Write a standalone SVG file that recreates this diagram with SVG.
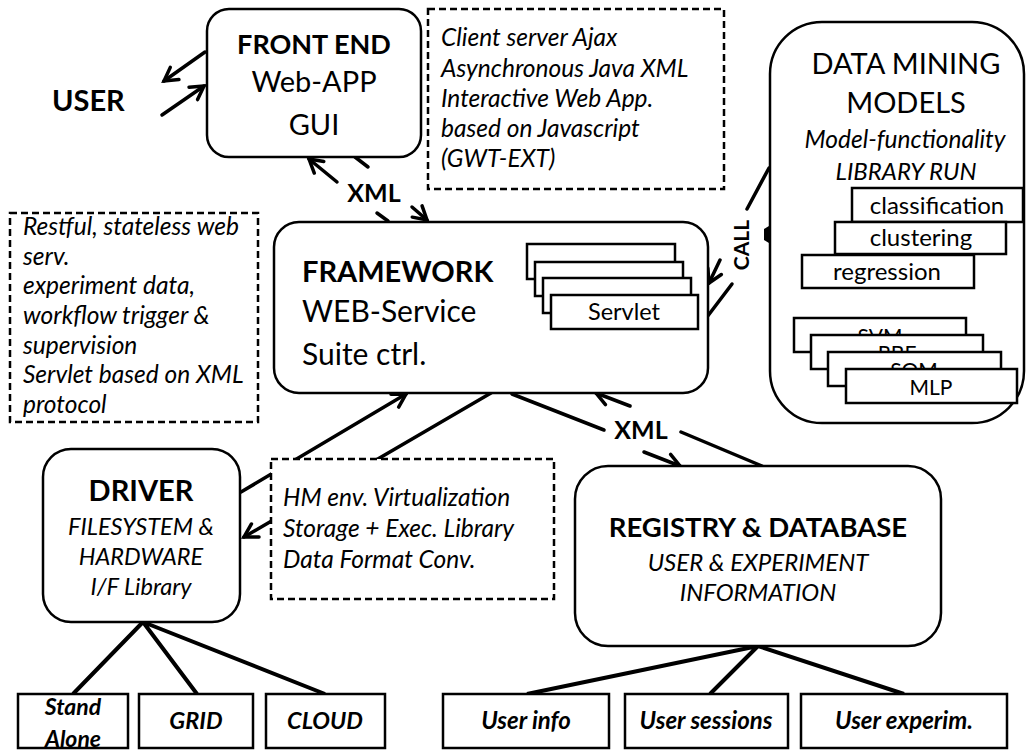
<svg xmlns="http://www.w3.org/2000/svg" width="1030" height="751" viewBox="0 0 1030 751">
<defs>
<style>
.t{font-family:Lato,"Liberation Sans",sans-serif;fill:#000}
.b{font-weight:bold}
.i{font-style:italic}
.m{text-anchor:middle}
.box{fill:#fff;stroke:#000;stroke-width:2.5}
.dash{fill:#fff;stroke:#000;stroke-width:2.5;stroke-dasharray:7 4}
.sq{fill:#fff;stroke:#000;stroke-width:2.5}
.c{fill:none;stroke:#000;stroke-width:3.5;stroke-linecap:round}
.tree{fill:none;stroke:#000;stroke-width:4}
</style>
<marker id="ah" markerWidth="24" markerHeight="24" refX="16" refY="10" orient="auto" markerUnits="userSpaceOnUse" overflow="visible">
<path d="M3,2.5 L16,10 L3,17.5" fill="none" stroke="#000" stroke-width="3.5" stroke-linecap="round"/>
</marker>
</defs>

<g id="connectors">
<path class="c" d="M205,52 L164,81" marker-end="url(#ah)"/>
<path class="c" d="M162,115 L204,86" marker-end="url(#ah)"/>
<path class="c" d="M388,221 L377,213 M337,182 L309,159" marker-end="url(#ah)"/>
<path class="c" d="M355,157 L368,167 M412,207 L427,220" marker-end="url(#ah)"/>
<path class="c" d="M707,317 L732,284"/>
<polygon points="764,229 769,226 769,243 764,240" fill="#000"/>
<path class="c" d="M769,168 L747,209 M720,260 L709,283" marker-end="url(#ah)"/>
<path class="c" d="M241,492 L406,394" marker-end="url(#ah)"/>
<path class="c" d="M491,393 L244,537" marker-end="url(#ah)"/>
<path class="c" d="M512,394 L604,430 M644,452 L680,466" marker-end="url(#ah)"/>
<path class="c" d="M762,466 L681,432 M630,406 L596,393" marker-end="url(#ah)"/>
<path class="tree" d="M143,622 L73,694 M143,622 L197,694 M143,622 L325,694"/>
<path class="tree" d="M758,646 L527,694 M758,646 L710,694 M758,646 L904,694"/>
<text class="t b m" x="374" y="202" font-size="25">XML</text>
<text class="t b m" x="641" y="439" font-size="25">XML</text>
<text class="t b m" x="0" y="0" font-size="21" transform="translate(749,245) rotate(-90)">CALL</text>
</g>

<g id="user">
<text class="t b" x="52" y="111" font-size="29">USER</text>
</g>

<g id="frontend">
<rect class="box" x="207" y="9" width="214" height="148" rx="22"/>
<text class="t b m" x="314" y="54" font-size="27">FRONT END</text>
<text class="t m" x="314" y="92" font-size="29">Web-APP</text>
<text class="t m" x="314" y="135" font-size="29">GUI</text>
</g>

<g id="note-client">
<rect class="dash" x="428" y="9" width="296" height="180"/>
<text class="t i" font-size="24.5"><tspan x="441" y="46">Client server Ajax</tspan><tspan x="441" y="76.5">Asynchronous Java XML</tspan><tspan x="441" y="107">Interactive Web App.</tspan><tspan x="441" y="137">based on Javascript</tspan><tspan x="441" y="167">(GWT-EXT)</tspan></text>
</g>

<g id="datamining">
<rect class="box" x="770" y="22" width="254" height="401" rx="52"/>
<text class="t m" x="906" y="74" font-size="29">DATA MINING</text>
<text class="t m" x="906" y="113" font-size="29">MODELS</text>
<text class="t i m" x="905" y="148" font-size="24.5">Model-functionality</text>
<text class="t i m" x="906" y="180" font-size="24">LIBRARY RUN</text>
<rect class="sq" x="852" y="188" width="171" height="34"/>
<text class="t m" x="937" y="214" font-size="24">classification</text>
<rect class="sq" x="835" y="222" width="171" height="32"/>
<text class="t m" x="921" y="246" font-size="24">clustering</text>
<rect class="sq" x="802" y="255" width="172" height="33"/>
<text class="t m" x="887" y="280" font-size="24">regression</text>
<rect class="sq" x="794" y="318" width="172" height="34"/>
<text class="t m" x="880" y="344" font-size="21">SVM</text>
<rect class="sq" x="811" y="335" width="172" height="34"/>
<text class="t m" x="897" y="361" font-size="21">RBF</text>
<rect class="sq" x="828" y="352" width="173" height="34"/>
<text class="t m" x="914" y="378" font-size="21">SOM</text>
<rect class="sq" x="846" y="369" width="171" height="34"/>
<text class="t m" x="931" y="395" font-size="21">MLP</text>
</g>

<g id="note-restful">
<rect class="dash" x="10" y="213" width="248" height="209"/>
<text class="t i" font-size="24.5"><tspan x="23" y="235">Restful, stateless web</tspan><tspan x="23" y="265">serv.</tspan><tspan x="23" y="294">experiment data,</tspan><tspan x="23" y="324">workflow trigger &amp;</tspan><tspan x="23" y="354">supervision</tspan><tspan x="23" y="383">Servlet based on XML</tspan><tspan x="23" y="413">protocol</tspan></text>
</g>

<g id="framework">
<rect class="box" x="274" y="222" width="434" height="171" rx="25"/>
<text class="t b" x="302" y="282" font-size="29">FRAMEWORK</text>
<text class="t" x="302" y="322" font-size="30">WEB-Service</text>
<text class="t" x="302" y="365" font-size="30">Suite ctrl.</text>
<rect class="sq" x="527" y="244" width="148" height="35"/>
<rect class="sq" x="535" y="262" width="148" height="34"/>
<rect class="sq" x="543" y="278" width="148" height="35"/>
<rect class="sq" x="551" y="295" width="147" height="34"/>
<text class="t m" x="624" y="320" font-size="23.5">Servlet</text>
</g>

<g id="driver">
<rect class="box" x="43" y="449" width="197" height="173" rx="28"/>
<text class="t b m" x="141" y="501" font-size="29">DRIVER</text>
<text class="t i m" x="141" y="535" font-size="23.5">FILESYSTEM &amp;</text>
<text class="t i m" x="141" y="565" font-size="23.5">HARDWARE</text>
<text class="t i m" x="141" y="595" font-size="23.5">I/F Library</text>
</g>

<g id="note-hm">
<rect class="dash" x="271" y="459" width="283" height="140"/>
<text class="t i" font-size="24.5"><tspan x="283" y="506">HM env. Virtualization</tspan><tspan x="283" y="537">Storage + Exec. Library</tspan><tspan x="283" y="568">Data Format Conv.</tspan></text>
</g>

<g id="registry">
<rect class="box" x="575" y="466" width="366" height="180" rx="33"/>
<text class="t b m" x="758" y="537" font-size="27.5">REGISTRY &amp; DATABASE</text>
<text class="t i m" x="758" y="571" font-size="24">USER &amp; EXPERIMENT</text>
<text class="t i m" x="758" y="601" font-size="24">INFORMATION</text>
</g>

<g id="standalone">
<rect class="sq" x="18" y="694" width="110" height="54"/>
<text class="t b i m" x="73" y="715" font-size="23">Stand</text>
<text class="t b i m" x="73" y="747" font-size="23">Alone</text>
</g>
<g id="grid">
<rect class="sq" x="139" y="694" width="114" height="54"/>
<text class="t b i m" x="196" y="729" font-size="23.5">GRID</text>
</g>
<g id="cloud">
<rect class="sq" x="266" y="694" width="119" height="54"/>
<text class="t b i m" x="325" y="729" font-size="23.5">CLOUD</text>
</g>
<g id="userinfo">
<rect class="sq" x="443" y="694" width="166" height="54"/>
<text class="t b i m" x="526" y="729" font-size="24">User info</text>
</g>
<g id="usersessions">
<rect class="sq" x="625" y="694" width="163" height="54"/>
<text class="t b i m" x="706" y="729" font-size="24">User sessions</text>
</g>
<g id="userexperim">
<rect class="sq" x="801" y="694" width="206" height="54"/>
<text class="t b i m" x="904" y="729" font-size="24">User experim.</text>
</g>
</svg>
